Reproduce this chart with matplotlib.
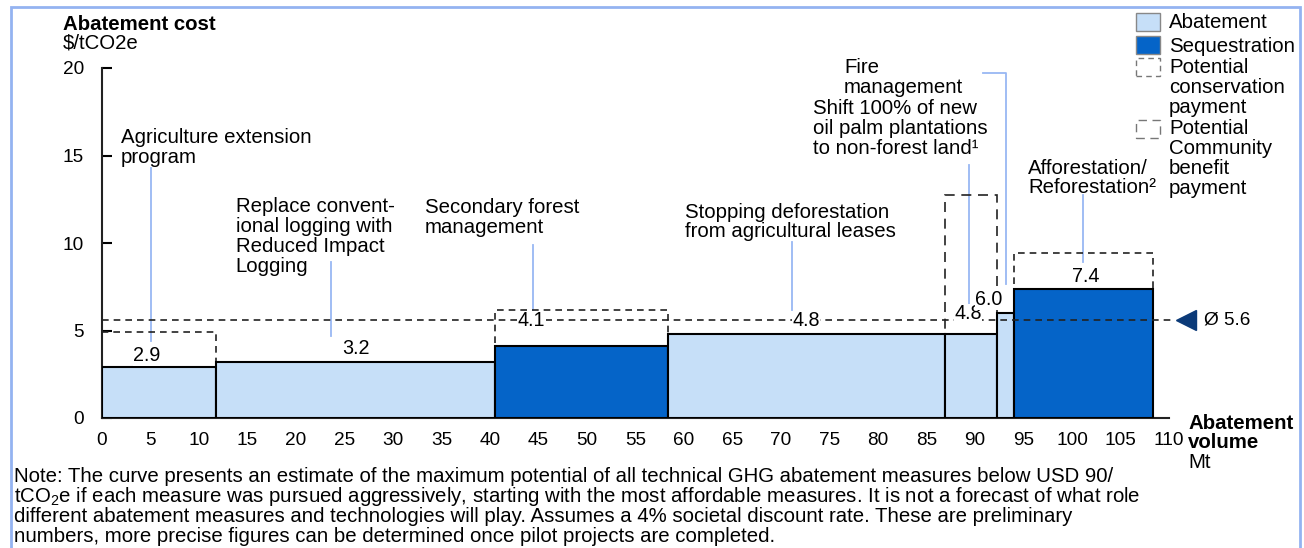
import matplotlib
matplotlib.use('Agg')
import matplotlib.pyplot as plt
from matplotlib.patches import Rectangle

plt.rcParams['font.family'] = ['Liberation Sans', 'DejaVu Sans']
plt.rcParams['mathtext.fontset'] = 'custom'
plt.rcParams['mathtext.rm'] = 'Liberation Sans'

# measures along the curve, left to right
volumes = [11.8, 28.7, 17.8, 28.6, 5.4, 1.7, 14.4]      # Mt
costs = [2.9, 3.2, 4.1, 4.8, 4.8, 6.0, 7.4]             # $/tCO2e
kinds = ['abatement', 'abatement', 'sequestration', 'abatement',
         'abatement', 'abatement', 'sequestration']
payment_top = [4.9, None, 6.15, None, 12.75, None, 9.45]
payment_kind = ['conservation', None, 'conservation', None,
                'community', None, 'conservation']
average_cost = 5.6
x_ticks = list(range(0, 111, 5))
y_ticks = [0, 5, 10, 15, 20]

callout_texts = [
    "Agriculture extension\nprogram",
    "Replace convent-\nional logging with\nReduced Impact\nLogging",
    "Secondary forest\nmanagement",
    "Stopping deforestation\nfrom agricultural leases",
    "Shift 100% of new\noil palm plantations\nto non-forest land\u00b9",
    "Fire\nmanagement",
    "Afforestation/\nReforestation\u00b2",
]
note_lines = [
    "Note: The curve presents an estimate of the maximum potential of all technical GHG abatement measures below USD 90/",
    r"tCO$_\mathregular{2}$e if each measure was pursued aggressively, starting with the most affordable measures. It is not a forecast of what role",
    "different abatement measures and technologies will play. Assumes a 4% societal discount rate. These are preliminary",
    "numbers, more precise figures can be determined once pilot projects are completed.",
]

W, H = 1304, 548
FS = 14.7
LS = 1.05
COL = {'abatement': '#C6DFF8', 'sequestration': '#0564C8'}
DASH = {'conservation': (0, (4, 3)), 'community': (0, (6, 4))}
LEAD = '#98B8F3'


def fx(px):
    return px / W


def fy(py):
    return 1 - py / H


fig = plt.figure(figsize=(W / 100, H / 100), dpi=100)
ax = fig.add_axes([fx(102), fy(418), fx(1169) - fx(102), fy(68) - fy(418)])
ax.set_xlim(0, 110)
ax.set_ylim(0, 20)

lefts = [sum(volumes[:i]) for i in range(len(volumes))]
ax.bar(lefts, costs, width=volumes, align='edge',
       color=[COL[k] for k in kinds], edgecolor='black', linewidth=1.5, zorder=3)

for left, w, c, top, pk in zip(lefts, volumes, costs, payment_top, payment_kind):
    if top is None:
        continue
    ax.add_patch(Rectangle((left, c), w, top - c, fill=False, edgecolor='#222222',
                           linestyle=DASH[pk], linewidth=1.2, zorder=2))

# average cost
ax.plot([0, 110.6], [average_cost, average_cost], color='#222222',
        linestyle=(0, (4, 3)), linewidth=1.2, zorder=4, clip_on=False)
ax.plot([111.8], [average_cost], marker='<', markersize=14, color='#0B3A78',
        clip_on=False, zorder=5)
ax.text(113.6, average_cost, "\u00d8 %.1f" % average_cost, fontsize=FS - 1,
        va='center', ha='left')

# value labels above the bars
label_x = [4.6, 26.2, 44.3, 72.6, 89.3, 91.4, 101.4]
label_dy = [0.65, 0.75, 1.45, 0.75, 1.15, 0.75, 0.7]
for lx, c, dy in zip(label_x, costs, label_dy):
    ax.text(lx, c + dy, "%.1f" % c, ha='center', va='center', fontsize=FS - 0.5,
            zorder=6, bbox=dict(facecolor='white', edgecolor='none', pad=0.1))

# callouts and their leader lines
callout_pos = [(1.96, 15.46), (13.8, 10.37), (33.3, 11.46), (60.1, 11.2),
               (73.3, 16.54), (76.5, 19.45), (95.5, 13.71)]
leaders = [
    [(5.0, 14.29), (5.0, 4.4)],
    [(23.6, 8.91), (23.6, 4.69)],
    [(44.4, 9.89), (44.4, 6.17)],
    [(71.1, 10.06), (71.1, 6.17)],
    [(89.4, 14.46), (89.4, 6.29)],
    [(90.8, 19.73), (93.2, 19.73), (93.2, 7.66)],
    [(101.1, 12.74), (101.1, 8.91)],
]
for txt, (tx, ty), pts in zip(callout_texts, callout_pos, leaders):
    ax.text(tx, ty, txt, ha='left', va='center', fontsize=FS, linespacing=LS,
            clip_on=False)
    ax.plot([p[0] for p in pts], [p[1] for p in pts], color=LEAD, linewidth=1.3,
            zorder=1, clip_on=False)

# axes
for s in ['top', 'right']:
    ax.spines[s].set_visible(False)
for s in ['left', 'bottom']:
    ax.spines[s].set_linewidth(1.5)
    ax.spines[s].set_color('#222222')
ax.set_xticks(x_ticks)
ax.set_yticks(y_ticks)
ax.tick_params(axis='x', length=0, pad=10, labelsize=FS - 1)
ax.tick_params(axis='y', direction='in', length=7, width=1.5, pad=13,
               labelsize=FS - 1)

fig.text(fx(63), fy(25), "Abatement cost", fontsize=FS, weight='bold', va='center')
fig.text(fx(63), fy(43), r"\$/tCO2e", fontsize=FS, va='center')
fig.text(fx(1188), fy(433), "Abatement\nvolume", fontsize=FS, weight='bold',
         va='center', linespacing=0.95)
fig.text(fx(1188), fy(462), "Mt", fontsize=FS, va='center')

# legend
leg_boxes = [(13, 'abatement', None), (36, 'sequestration', None),
             (58, None, 'conservation'), (120, None, 'community')]
for top, kind, pk in leg_boxes:
    if kind:
        r = Rectangle((fx(1136), fy(top + 18)), fx(24), 18 / H, facecolor=COL[kind],
                      edgecolor='#888888', linewidth=1, transform=fig.transFigure)
    else:
        r = Rectangle((fx(1136), fy(top + 18)), fx(24), 18 / H, fill=False,
                      edgecolor='#777777', linestyle=DASH[pk], linewidth=1,
                      transform=fig.transFigure)
    fig.add_artist(r)
fig.text(fx(1169), fy(22), "Abatement", fontsize=FS, va='center')
fig.text(fx(1169), fy(46), "Sequestration", fontsize=FS, va='center')
fig.text(fx(1169), fy(87.5), "Potential\nconservation\npayment", fontsize=FS,
         va='center', linespacing=LS)
fig.text(fx(1169), fy(158.5), "Potential\nCommunity\nbenefit\npayment", fontsize=FS,
         va='center', linespacing=LS)

# note
for i, line in enumerate(note_lines):
    fig.text(fx(14), fy(477 + 20 * i), line, fontsize=FS, va='center')

# frame
fig.add_artist(Rectangle((fx(11), fy(570)), fx(1300) - fx(11), fy(7) - fy(570),
                         fill=False, edgecolor='#94B3F1', linewidth=2,
                         transform=fig.transFigure))

fig.savefig('out.png', dpi=100)
